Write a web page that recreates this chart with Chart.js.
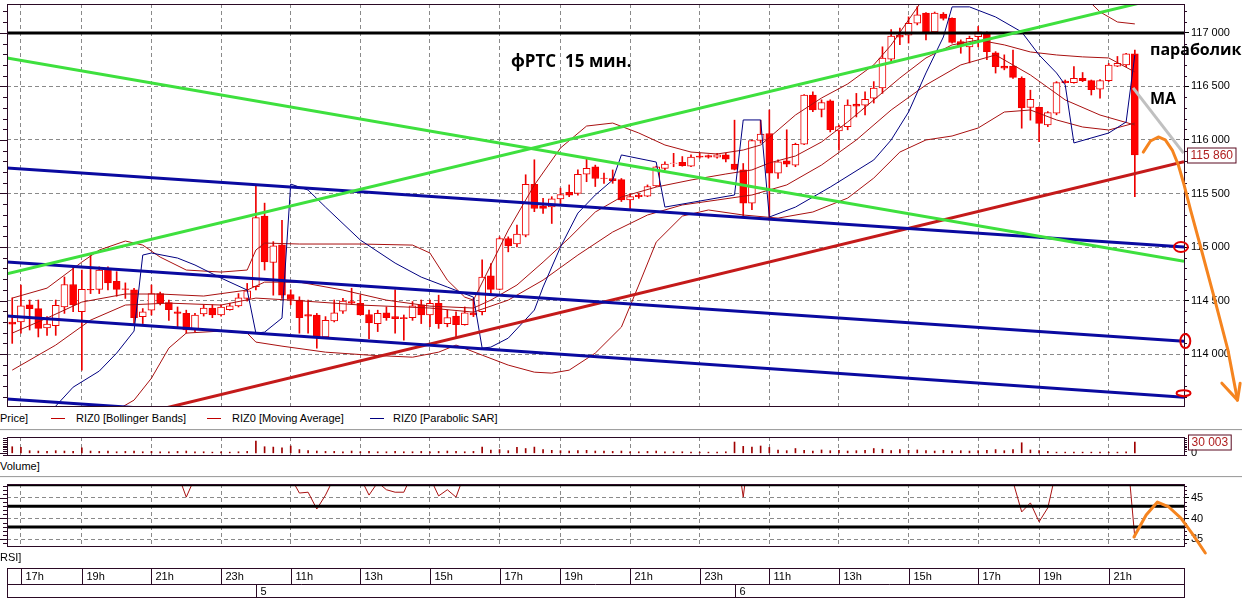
<!DOCTYPE html>
<html>
<head>
<meta charset="utf-8">
<script src="https://cdn.jsdelivr.net/npm/chart.js@4.4.0/dist/chart.umd.min.js"></script>
<style>
  body { margin: 0; width: 1242px; height: 600px; background: #fff; position: relative; overflow: hidden; font-family: "Liberation Sans", Arial, sans-serif; }
  canvas { position: absolute; left: 0; }
  .lbl { position: absolute; font-size: 11px; line-height: 12px; color: #000; white-space: nowrap; }
  .note { position: absolute; font-family: "Open Sans", sans-serif; font-weight: bold; color: #000; white-space: pre; }
  .sep { position: absolute; left: 0; width: 1242px; height: 1px; background: #a0a0a0; border-bottom: 1px solid #f4f4f4; }
  .swatch { position: absolute; width: 14px; height: 1px; }
</style>
</head>
<body>
<canvas id="priceChart" width="1242" height="410" style="top:0"></canvas>
<canvas id="volumeChart" width="1242" height="30" style="top:430px"></canvas>
<canvas id="rsiChart" width="1242" height="80" style="top:480px"></canvas>
<canvas id="timeChart" width="1242" height="35" style="top:565px"></canvas>

<div class="note" style="left:511px;top:52px;font-size:17px;line-height:17px">фРТС  15 мин.</div>
<div class="note" style="left:1150px;top:41px;font-size:16px;line-height:16px">параболик</div>
<div class="note" style="left:1150px;top:90px;font-size:16px;line-height:16px">MA</div>

<div class="lbl" style="left:0;top:412px">Price]</div>
<div class="swatch" style="left:51px;top:418px;background:#c00000"></div>
<div class="lbl" style="left:76px;top:412px">RIZ0 [Bollinger Bands]</div>
<div class="swatch" style="left:207px;top:418px;background:#c00000"></div>
<div class="lbl" style="left:232px;top:412px">RIZ0 [Moving Average]</div>
<div class="swatch" style="left:370px;top:418px;background:#000080"></div>
<div class="lbl" style="left:393px;top:412px">RIZ0 [Parabolic SAR]</div>
<div class="sep" style="top:429px"></div>
<div class="lbl" style="left:0;top:460px">Volume]</div>
<div class="sep" style="top:476px"></div>
<div class="lbl" style="left:0;top:551px">RSI]</div>

<script>
// RIZ0, 15 min bars, 4-6 Oct; bar index 0 = 16:45
const opens = [114300,114300,114460,114425,114245,114265,114440,114650,114395,114605,
  114605,114795,114680,114610,114600,114350,114410,114565,114480,114395,
  114380,114225,114375,114430,114365,114415,114450,114520,114630,115290,
  114855,115020,114555,114505,114370,114365,114160,114310,114400,114490,
  114475,114370,114285,114385,114350,114340,114340,114460,114365,114475,
  114285,114355,114275,114385,114395,114730,114605,115080,115030,115110,
  115585,115385,115375,115450,115510,115500,115680,115750,115645,115640,
  115630,115440,115485,115475,115570,115735,115780,115790,115755,115850,
  115855,115840,115860,115775,115720,115410,115995,116060,115690,115805,
  115765,115960,116420,116285,116365,116085,116125,116335,116325,116390,
  116485,116755,116980,116980,117090,117185,117010,117175,117135,116920,
  116870,116965,117000,116815,116690,116690,116575,116305,116305,116140,
  116250,116550,116535,116575,116555,116475,116555,116690,116700,116805];
const highs = [114525,114645,114505,114505,114350,114505,114720,114830,114785,114925,
  114815,114815,114770,114665,114615,114425,114645,114580,114505,114440,
  114410,114380,114460,114460,114460,114475,114565,114660,115580,115410,
  115050,115250,114600,114535,114505,114380,114350,114505,114520,114615,
  114550,114410,114410,114440,114600,114365,114490,114505,114505,114550,
  114410,114395,114440,114520,114880,114845,115095,115095,115205,115675,
  115815,115455,115470,115550,115580,115720,115830,115765,115690,115720,
  115640,115500,115500,115580,115755,115795,115875,115845,115860,115875,
  115860,115875,115875,116185,115780,116000,116185,116280,115815,116095,
  115970,116425,116450,116375,116375,116140,116375,116435,116450,116545,
  116870,117030,117045,117150,117245,117190,117195,117190,117140,116935,
  116970,117060,117010,116825,116795,116840,116590,116465,116310,116265,
  116545,116560,116685,116630,116560,116565,116715,116780,116810,116840];
const lows = [114100,114195,114225,114160,114175,114175,114380,114395,113850,114565,
  114565,114600,114540,114520,114285,114285,114365,114460,114315,114240,
  114195,114210,114355,114340,114355,114410,114440,114495,114600,114785,
  114550,114520,114460,114195,114195,114055,114160,114300,114380,114465,
  114365,114145,114210,114315,114195,114130,114315,114285,114255,114240,
  114255,114160,114270,114350,114365,114550,114600,114955,115000,115095,
  115330,115315,115220,115395,115470,115485,115610,115565,115595,115595,
  115425,115360,115455,115470,115565,115720,115750,115755,115750,115830,
  115830,115830,115795,115720,115285,115350,115970,115250,115640,115750,
  115750,115955,116265,116215,116075,115905,116095,116215,116235,116345,
  116435,116730,116890,116905,117075,116935,117000,117120,116905,116810,
  116720,116870,116750,116625,116655,116575,116110,116185,115985,116125,
  116235,116530,116530,116545,116420,116390,116545,116685,116685,115470];
const closes = [114280,114450,114425,114240,114280,114455,114650,114460,114605,114600,
  114785,114665,114605,114605,114340,114395,114565,114475,114415,114380,
  114225,114365,114430,114365,114440,114450,114525,114590,115275,114860,
  115010,114550,114510,114340,114355,114160,114315,114385,114495,114475,
  114365,114290,114380,114340,114330,114330,114450,114365,114475,114285,
  114340,114275,114385,114365,114720,114605,115080,115010,115120,115585,
  115360,115360,115450,115490,115485,115680,115735,115640,115640,115620,
  115440,115470,115470,115565,115750,115775,115785,115760,115840,115840,
  115840,115860,115820,115725,115410,115995,116055,115690,115795,115775,
  115960,116420,116280,116350,116095,116125,116325,116315,116380,116485,
  116765,116970,116960,117090,117170,117010,117185,117135,116910,116880,
  116950,117010,116825,116685,116670,116585,116300,116380,116155,116255,
  116535,116535,116575,116555,116470,116555,116700,116715,116805,115860];

// indicator lines read at selected bars: [bar, price]
const upperBand = [[0,114523],[4,114616],[8,114859],[10,114972],[13,115056],[15,115018],[17,114906],[20,114785],
  [24,114766],[27,114785],[28,114972],[29,115037],[33,115028],[40,115028],[46,115018],[48,114944],[50,114691],
  [52,114532],[53,114504],[55,114831],[57,115158],[60,115579],[63,115925],[66,116130],[69,116158],[72,116065],
  [75,115953],[78,115887],[81,115869],[84,115906],[86,115953],[88,116093],[90,116233],[93,116392],[96,116523],
  [99,116701],[101,116887],[103,117121],[105,117355],[110,117682],[115,117729],[120,117588],[123,117355],
  [125,117196],[127,117102],[129,117084]];
const middleBand = [[0,114196],[4,114336],[8,114486],[13,114561],[17,114561],[22,114542],[27,114598],[29,114672],
  [33,114672],[38,114598],[43,114504],[48,114448],[53,114430],[55,114504],[58,114645],[61,114859],[64,115084],
  [67,115327],[70,115467],[74,115560],[78,115626],[82,115682],[85,115720],[87,115785],[90,115850],[93,115981],
  [96,116168],[99,116374],[102,116579],[105,116766],[108,116888],[111,116934],[114,116888],[117,116822],
  [120,116794],[123,116776],[126,116766],[129,116635]];
const lowerBand = [[0,113289],[8,113383],[12,113476],[14,113570],[16,113775],[18,114056],[20,114196],[24,114215],
  [27,114196],[28,114112],[31,114074],[36,114018],[41,113990],[46,113971],[49,114018],[51,114084],[54,113990],
  [57,113897],[60,113831],[62,113822],[64,113850],[67,114009],[70,114252],[72,114645],[74,115046],[77,115289],
  [80,115346],[84,115299],[88,115270],[92,115327],[96,115457],[99,115644],[102,115887],[105,116000],[108,116037],
  [111,116112],[114,116261],[117,116280],[120,116187],[123,116121],[126,116093],[129,116158]];
const movingAverage = [[0,113850],[5,114084],[9,114317],[13,114458],[18,114476],[24,114458],[28,114523],[32,114504],
  [40,114458],[48,114430],[53,114392],[57,114504],[61,114691],[65,114925],[69,115140],[73,115299],[77,115393],
  [81,115439],[85,115486],[89,115580],[93,115766],[97,116000],[101,116280],[105,116514],[109,116701],[113,116794],
  [117,116607],[121,116374],[125,116233],[129,116140]];
const sarPoints = [[3,113330],[5,113514],[7,113691],[10,113841],[12,114009],[14,114215],[15,114925],[16,114944],
  [19,114897],[21,114832],[24,114710],[27,114598],[28,114196],[29,114205],[31,114336],[32,115588],[34,115532],
  [36,115373],[40,115065],[44,114850],[47,114719],[50,114626],[53,114532],[54,114056],[55,114065],[57,114149],
  [60,114411],[61,114626],[63,115000],[65,115317],[67,115486],[69,115626],[70,115860],[74,115794],[75,115373],
  [83,115486],[84,116187],[86,116187],[87,115280],[90,115373],[94,115560],[99,115813],[101,116000],[103,116261],
  [105,116626],[107,116962],[108,117243],[110,117243],[113,117149],[116,117009],[118,116794],[120,116626],
  [121,116514],[122,115972],[126,116065],[128,116168],[129,116794]];

const volumes = [17000,15000,6000,5000,4000,6000,5000,4000,14000,5000,
  4000,5000,3000,4000,5000,3000,4000,3000,3000,4000,
  5000,3000,3000,2000,3000,2000,3000,4000,33000,17000,
  16000,14000,19000,9000,6000,5000,4000,4000,3000,5000,
  3000,4000,3000,3000,4000,3000,3000,4000,3000,4000,
  5000,4000,3000,4000,16000,8000,9000,6000,15000,12000,
  16000,9000,7000,6000,5000,6000,7000,5000,5000,4000,
  5000,3000,3000,4000,5000,3000,3000,3000,2000,2000,
  2000,2000,3000,30000,18000,16000,19000,15000,8000,6000,
  12000,7000,5000,8000,6000,7000,5000,6000,7000,12000,
  10000,6000,9000,7000,8000,6000,5000,7000,5000,6000,
  5000,6000,7000,9000,6000,9000,28000,8000,6000,4000,
  2000,2000,2000,2000,2000,2000,2000,2000,3000,30003];
const rsi = [56,60,59,52,54,60,66,58,63,62,
  67,62,60,60,52,54,59,55,52,51,
  45.2,50,53,51,54,55,58,61,72,60,
  64,52,50,46.2,46.4,42.3,45.7,50,53,52,
  50,45.7,48.8,47,46.4,46.4,51,50,50,45.5,
  47,45.2,51,50,62,58,68,66,68,76,
  70,70,71,72,72,75,76,68,68,67,
  60,61,61,64,68,69,69,68,70,70,
  70,71,68,60,45.2,62,64,53,57,56,
  61,68,63,65,57,58,63,62,64,66,
  71,74,73,75,77,70,74,72,63,61,
  64,65,58,54,54,49,41.6,43.8,39.2,42.6,
  52,52,54,53,48.0,52,56,57,59,35.3];

// hand drawn analysis lines: [bar, price]
const greenDown = [[-0.6,116765],[134.65,114866]];
const greenUp = [[-0.6,114749],[134.65,117378]];
const blueChannel1 = [[-0.6,115737],[134.65,114999]];
const blueChannel2 = [[-0.6,114859],[134.65,114120]];
const blueChannel3 = [[-0.6,114355],[134.65,113597]];
const blueChannel4 = [[-0.6,113580],[30,113413]];
const redSupport = [[10,113347],[134.65,115796]];
const level117 = [[-0.6,117000],[134.65,117000]];
const maHint = [[128.8,116486],[134.6,115877]];
const forecastPrice = [[129.97,115887],[130.8,115990],[131.7,116028],[132.5,116000],[133.3,115906],[134.0,115766],
  [134.6,115598],[135.4,115346],[136.5,115019],[138.2,114504],[139.7,114037],[140.8,113570]];
const forecastArrow = [[139.0,113728],[140.8,113570],[141.1,113728]];
const forecastRsi = [[128.9,35.5],[130.3,40.85],[131.6,44.0],[132.9,42.8],[134.3,40.1],[135.7,36.0],[137.1,31.6]];
const markedLevels = [[134.3,115000],[134.8,114121],[134.6,113635]];

const hourBars = [1,8,16,24,32,40,48,56,63,71,79,87,95,103,111,118,126];
const hourLabels = ['17h','19h','21h','23h','11h','13h','15h','17h','19h','21h','23h','11h','13h','15h','17h','19h','21h'];
const dayBars = [28, 83];
const dayLabels = ['5', '6'];
const priceTicks = [114000,114500,115000,115500,116000,116500,117000];
const rsiTicks = [35, 40, 45];
const rsiLevels = [48.2, 43, 37.9];

const xMin = -0.6, xMax = 134.65;
const frameColor = '#2b0a25';
const axisFont = '"Liberation Sans", Arial, sans-serif';

Chart.defaults.font.family = axisFont;
Chart.defaults.font.size = 11;
Chart.defaults.color = '#000';

function fmt(v) {
  const s = String(Math.round(v));
  return s.length > 3 ? s.slice(0, -3) + ' ' + s.slice(-3) : s;
}

function xAxis() {
  return {
    type: 'linear', min: xMin, max: xMax, offset: false,
    afterBuildTicks: s => { s.ticks = hourBars.map(v => ({ value: v })); },
    ticks: { display: false },
    grid: { color: '#8a8a8a', drawTicks: false, offset: false },
    border: { display: false, dash: [4, 3] },
    afterFit: s => { s.height = 0; s.paddingLeft = 0; s.paddingRight = 0; }
  };
}

function yAxis(min, max, ticks, showGrid) {
  return {
    position: 'right', min: min, max: max,
    afterBuildTicks: s => { s.ticks = ticks.map(v => ({ value: v })); },
    ticks: { padding: 2, color: '#000', callback: v => fmt(v) },
    grid: { display: showGrid, color: '#8a8a8a', tickLength: 5, tickColor: '#000', tickBorderDash: [] },
    border: { display: false, dash: [4, 3] },
    afterFit: s => { s.width = 58; s.paddingTop = 0; s.paddingBottom = 0; }
  };
}

function toXY(pts) { return pts.map(p => ({ x: p[0], y: p[1] })); }

function lineDs(pts, color, width, order) {
  return { type: 'line', data: toXY(pts), borderColor: color, borderWidth: width,
    pointRadius: 0, tension: 0, fill: false, order: order };
}

function drawFrameTicks(chart, step, majorStep) {
  const { ctx, chartArea: a, scales: { y } } = chart;
  ctx.save();
  ctx.strokeStyle = frameColor;
  ctx.lineWidth = 1;
  ctx.strokeRect(a.left + 0.5, a.top + 0.5, a.right - a.left, a.bottom - a.top);
  ctx.beginPath();
  for (let v = Math.ceil(y.min / step) * step; v <= y.max; v += step) {
    const py = Math.round(y.getPixelForValue(v)) + 0.5;
    const major = Math.abs(v % majorStep) < 1e-6;
    ctx.moveTo(a.left - (major ? 7 : 4), py);
    ctx.lineTo(a.left, py);
    if (!major) { ctx.moveTo(a.right, py); ctx.lineTo(a.right + 3, py); }
  }
  ctx.stroke();
  ctx.restore();
}

function strokePath(ctx, chart, pts, color, width) {
  const { x, y } = chart.scales;
  ctx.save();
  ctx.strokeStyle = color;
  ctx.lineWidth = width;
  ctx.lineJoin = 'round';
  ctx.lineCap = 'round';
  ctx.beginPath();
  pts.forEach((p, i) => {
    const px = x.getPixelForValue(p[0]), py = y.getPixelForValue(p[1]);
    if (i) ctx.lineTo(px, py); else ctx.moveTo(px, py);
  });
  ctx.stroke();
  ctx.restore();
}

function valueBox(ctx, x0, py, text) {
  ctx.save();
  ctx.font = '12px ' + axisFont;
  const w = ctx.measureText(text).width + 6;
  ctx.fillStyle = '#fff';
  ctx.fillRect(x0, py - 7.5, w, 15);
  ctx.strokeStyle = '#5a0a20';
  ctx.lineWidth = 1;
  ctx.strokeRect(x0 + 0.5, py - 7, w, 15);
  ctx.fillStyle = '#b02020';
  ctx.textBaseline = 'middle';
  ctx.fillText(text, x0 + 3.5, py + 1);
  ctx.restore();
}

const priceDecor = {
  id: 'priceDecor',
  afterDraw(chart) {
    const { ctx, chartArea: a, scales: { x, y } } = chart;
    drawFrameTicks(chart, 100, 500);
    // forecast arrow
    strokePath(ctx, chart, forecastPrice, '#f5841f', 3);
    strokePath(ctx, chart, forecastArrow, '#f5841f', 3);
    // circled levels
    const radii = [[7, 5], [5, 7], [7, 3]];
    ctx.save();
    ctx.strokeStyle = '#e00000';
    ctx.lineWidth = 2;
    markedLevels.forEach((p, i) => {
      ctx.beginPath();
      ctx.ellipse(x.getPixelForValue(p[0]), y.getPixelForValue(p[1]), radii[i][0], radii[i][1], 0, 0, Math.PI * 2);
      ctx.stroke();
    });
    ctx.restore();
    const last = closes[closes.length - 1];
    valueBox(ctx, a.right + 3, Math.round(y.getPixelForValue(last)), fmt(last));
  }
};

const volumeDecor = {
  id: 'volumeDecor',
  afterDraw(chart) {
    const { ctx, chartArea: a, scales: { y } } = chart;
    drawFrameTicks(chart, 5000, 1e9);
    const last = volumes[volumes.length - 1];
    valueBox(ctx, a.right + 4, Math.round(y.getPixelForValue(last)), fmt(last));
  }
};

const rsiDecor = {
  id: 'rsiDecor',
  afterDraw(chart) {
    drawFrameTicks(chart, 1, 5);
    strokePath(chart.ctx, chart, forecastRsi, '#f5841f', 3);
  }
};

const timeAxis = {
  id: 'timeAxis',
  afterDraw(chart) {
    const { ctx, chartArea: a, scales: { x } } = chart;
    const mid = a.top + 16;
    ctx.save();
    ctx.strokeStyle = frameColor;
    ctx.lineWidth = 1;
    ctx.strokeRect(a.left + 0.5, a.top + 0.5, a.right - a.left, a.bottom - a.top - 1);
    ctx.beginPath();
    ctx.moveTo(a.left, mid + 0.5);
    ctx.lineTo(a.right, mid + 0.5);
    ctx.stroke();
    ctx.font = '11px ' + axisFont;
    ctx.fillStyle = '#000';
    ctx.textBaseline = 'middle';
    hourBars.forEach((b, i) => {
      const px = Math.round(x.getPixelForValue(b)) + 0.5;
      ctx.beginPath(); ctx.moveTo(px, a.top); ctx.lineTo(px, mid); ctx.stroke();
      ctx.fillText(hourLabels[i], px + 4, a.top + 9);
    });
    dayBars.forEach((b, i) => {
      const px = Math.round(x.getPixelForValue(b)) + 0.5;
      ctx.beginPath(); ctx.moveTo(px, mid); ctx.lineTo(px, a.bottom - 1); ctx.stroke();
      ctx.fillText(dayLabels[i], px + 4, mid + 8);
    });
    ctx.restore();
  }
};

const baseOptions = (padding, scales) => ({
  responsive: false,
  animation: false,
  events: [],
  layout: { padding: padding },
  plugins: { legend: { display: false }, tooltip: { enabled: false } },
  scales: scales
});

const candleUp = closes.map((c, i) => c >= opens[i]);

new Chart(document.getElementById('priceChart'), {
  type: 'bar',
  data: {
    datasets: [
      { data: lows.map((l, i) => ({ x: i, y: [l, highs[i]] })), backgroundColor: '#ee0000',
        borderWidth: 0, barThickness: 1, grouped: false, order: 6 },
      { data: opens.map((o, i) => ({ x: i, y: [o, closes[i]] })),
        backgroundColor: candleUp.map(u => u ? '#ffffff' : '#ff0000'), borderColor: '#ee0000',
        borderWidth: 1, borderSkipped: false, barThickness: 7, grouped: false, order: 5 },
      lineDs(upperBand, '#a81010', 1, 4),
      lineDs(middleBand, '#a81010', 1, 4),
      lineDs(lowerBand, '#a81010', 1, 4),
      lineDs(movingAverage, '#a81010', 1, 4),
      lineDs(sarPoints, '#000080', 1, 3),
      lineDs(greenDown, '#3ee03e', 3, 1),
      lineDs(greenUp, '#3ee03e', 3, 1),
      lineDs(blueChannel1, '#0a0aa0', 3, 1),
      lineDs(blueChannel2, '#0a0aa0', 3, 1),
      lineDs(blueChannel3, '#0a0aa0', 3, 1),
      lineDs(blueChannel4, '#0a0aa0', 3, 1),
      lineDs(redSupport, '#c41a1a', 3, 1),
      lineDs(level117, '#000000', 3, 1),
      lineDs(maHint, '#c0c0c0', 3, 1)
    ]
  },
  options: baseOptions({ left: 7, right: 0, top: 4, bottom: 4 },
    { x: xAxis(), y: yAxis(113515, 117270, priceTicks, true) }),
  plugins: [priceDecor]
});

new Chart(document.getElementById('volumeChart'), {
  type: 'bar',
  data: {
    datasets: [{ data: volumes.map((v, i) => ({ x: i, y: v })), backgroundColor: '#a00000',
      barThickness: 1, borderWidth: 0 }]
  },
  options: baseOptions({ left: 7, right: 0, top: 7, bottom: 5 },
    { x: xAxis(), y: yAxis(-6000, 44000, [0], false) }),
  plugins: [volumeDecor]
});

new Chart(document.getElementById('rsiChart'), {
  type: 'line',
  data: {
    datasets: [
      { data: rsi.map((v, i) => ({ x: i, y: v })), borderColor: '#a81010', borderWidth: 1,
        pointRadius: 0, tension: 0, fill: false, order: 2 },
      ...rsiLevels.map(v => lineDs([[xMin, v], [xMax, v]], '#000000', 3, 1))
    ]
  },
  options: baseOptions({ left: 7, right: 0, top: 4, bottom: 14 },
    { x: xAxis(), y: yAxis(33.3, 48.4, rsiTicks, true) }),
  plugins: [rsiDecor]
});

new Chart(document.getElementById('timeChart'), {
  type: 'line',
  data: { datasets: [] },
  options: baseOptions({ left: 7, right: 58, top: 3, bottom: 2 }, {
    x: { type: 'linear', min: xMin, max: xMax, display: false },
    y: { min: 0, max: 1, display: false }
  }),
  plugins: [timeAxis]
});
</script>
</body>
</html>
